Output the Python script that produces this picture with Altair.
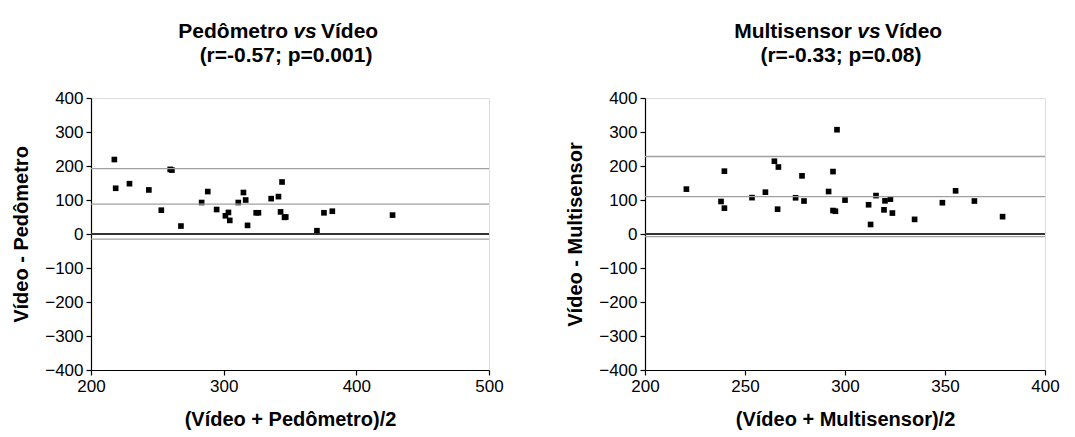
import altair as alt
import pandas as pd

# ---- data ----
ped_x = [217.6, 218.6, 229, 243.6, 253, 259.7, 261, 267.8, 283.4, 288, 294.7, 301.3, 303.6, 304.6,
         311, 314.9, 316.6, 318, 324.5, 326.2, 335.8, 341.3, 344, 342.9, 345.9, 346.8, 370.3, 375.6,
         381.9, 427.3]
ped_y = [219, 134.5, 148, 129.6, 70, 190, 188, 23.4, 92.6, 124.8, 72, 53.6, 63.4, 40,
         92.6, 122, 100, 25.4, 62.4, 62.4, 104, 110, 153, 65, 49, 50, 9.7, 62.4,
         67, 55.6]
mul_x = [220.7, 239.7, 238, 239.7, 253.5, 260.2, 264.7, 266.7, 266.3, 275.3, 278.5, 279.5, 291.8,
         294, 296, 294, 295.2, 300, 311.8, 312.8, 315.5, 319.5, 320, 322.7, 323.7, 334.8,
         348.7, 355.3, 364.7, 378.8]
mul_y = [132, 184.8, 95.6, 76, 107, 123, 214, 197, 73, 106.5, 171, 97, 125,
         183.6, 306.7, 69, 67, 99.7, 86, 28, 113, 71, 97.7, 102.6, 61.6, 43,
         92, 127, 97, 51]
ped_lines = [192, 88, -15]
mul_lines = [228, 110, -8]
zero_line = [0]

ped_title = ["Pedômetro", "vs", "Vídeo", "(r=-0.57; p=0.001)"]
mul_title = ["Multisensor", "vs", "Vídeo", "(r=-0.33; p=0.08)"]
ped_xticks = [200, 300, 400, 500]
mul_xticks = [200, 250, 300, 350, 400]
y_ticks = [-400, -300, -200, -100, 0, 100, 200, 300, 400]

FONT = "Liberation Sans"
H = 272


def panel(xs, ys, lines, xdom, xticks, xtitle, ytitle, tparts, W, off):
    df = pd.DataFrame({"x": xs, "y": ys})
    common = dict(grid=False, domainColor="black", tickColor="black", tickSize=5,
                  labelFontSize=17, labelFont=FONT, labelColor="black",
                  titleFont=FONT, titleFontSize=20, titleFontWeight="bold",
                  titleColor="black", labelPadding=3, labelFlush=False,
                  labelOverlap=False, domainWidth=1.2, tickWidth=1.2)
    xax = alt.Axis(values=xticks, title=xtitle, titlePadding=15, **common)
    yax = alt.Axis(values=y_ticks, title=ytitle, titlePadding=13, **common)
    xs_ = alt.Scale(domain=xdom, nice=False, zero=False)
    ys_ = alt.Scale(domain=[-400, 400], nice=False, zero=False)

    pts = alt.Chart(df).mark_square(size=32, color="black", opacity=1).encode(
        x=alt.X("x:Q", scale=xs_, axis=xax), y=alt.Y("y:Q", scale=ys_, axis=yax))
    refs = alt.Chart(pd.DataFrame({"v": lines})).mark_rule(
        color="#a0a0a0", strokeWidth=1.3).encode(y=alt.Y("v:Q", scale=ys_, axis=yax))
    zero = alt.Chart(pd.DataFrame({"v": zero_line})).mark_rule(
        color="#333333", strokeWidth=2).encode(y=alt.Y("v:Q", scale=ys_, axis=yax))

    one = pd.DataFrame({"a": [0]})
    c = W / 2 + off
    base = alt.Chart(one)
    tstyle = dict(font=FONT, fontSize=21, fontWeight="bold", baseline="alphabetic",
                  color="black")
    t1 = base.mark_text(align="right", **tstyle).encode(
        x=alt.value(c - 17), y=alt.value(-60), text=alt.value(tparts[0]))
    t2 = base.mark_text(align="center", fontStyle="italic", **tstyle).encode(
        x=alt.value(c), y=alt.value(-60), text=alt.value(tparts[1]))
    t3 = base.mark_text(align="left", **tstyle).encode(
        x=alt.value(c + 16), y=alt.value(-60), text=alt.value(tparts[2]))
    t4 = base.mark_text(align="center", **tstyle).encode(
        x=alt.value(W / 2 - 4), y=alt.value(-36), text=alt.value(tparts[3]))
    return alt.layer(pts, refs, zero, t1, t2, t3, t4).properties(width=W, height=H)


left = panel(ped_x, ped_y, ped_lines, [200, 500], ped_xticks, "(Vídeo + Pedômetro)/2",
             "Vídeo - Pedômetro", ped_title, 398, 15)
right = panel(mul_x, mul_y, mul_lines, [200, 400], mul_xticks, "(Vídeo + Multisensor)/2",
              "Vídeo - Multisensor", mul_title, 400, 24)

chart = alt.hconcat(left, right, spacing=61).properties(
    padding={"left": 11, "top": 20, "right": 5, "bottom": 5}
).configure_view(stroke=None).configure(background="white")

chart.save("out.html", embed_options={"renderer": "svg", "actions": False})
